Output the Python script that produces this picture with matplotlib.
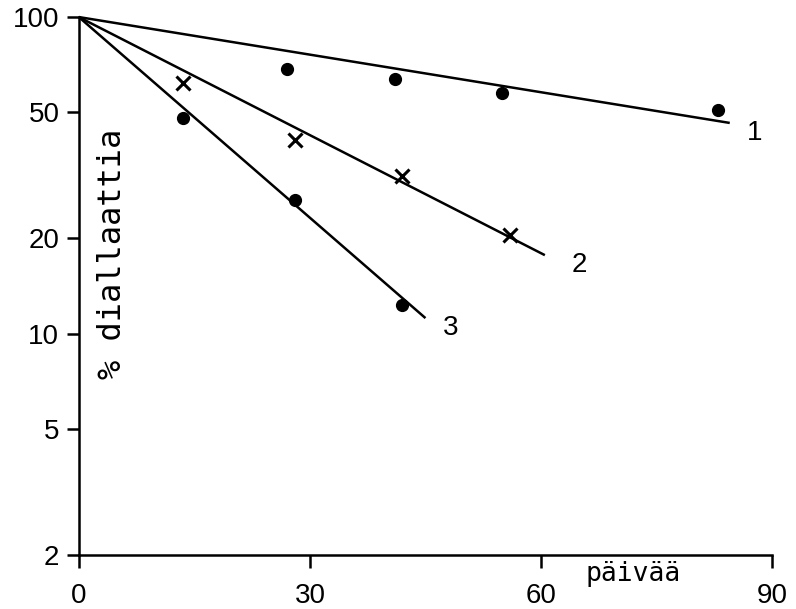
import matplotlib
matplotlib.use("Agg")
import matplotlib.pyplot as plt
from matplotlib.ticker import FixedLocator, NullLocator

# Data (days, % dialate remaining)
s1_days = [27, 41, 55, 83]
s1_vals = [68.5, 63.5, 57.5, 51]
s2_days = [13.5, 28, 42, 56]
s2_vals = [62, 41, 31.5, 20.5]
s3_days = [13.5, 28, 42]
s3_vals = [48, 26.5, 12.3]

# fitted lines: start (0, 100), end points
line_start_day = 0
line_start_val = 100
line_end_days = [84.5, 60.5, 45]
line_end_vals = [46.3, 17.7, 11.2]
line_labels = ["1", "2", "3"]

x_ticks = [0, 30, 60, 90]
y_ticks = [2, 5, 10, 20, 50, 100]
y_ticklabels = ["2", "5", "10", "20", "50", "100"]

plt.rcParams['font.family'] = ['Liberation Sans', 'DejaVu Sans']

fig = plt.figure(figsize=(7.96, 6.09), dpi=100)
ax = fig.add_axes([0.099, 0.0887, 0.871, 0.8833])
ax.set_yscale('log')
ax.set_xlim(0, 90)
ax.set_ylim(2, 100)

label_dx = [2.2, 3.5, 2.2]
for ed, ev, lab, dx in zip(line_end_days, line_end_vals, line_labels, label_dx):
    ax.plot([line_start_day, ed], [line_start_val, ev], color='black', lw=1.8,
            solid_capstyle='butt', clip_on=False)
    ax.text(ed + dx, ev * 0.93, lab, fontsize=20, ha='left', va='center')

ax.plot(s1_days, s1_vals, 'o', color='black', ms=8.5, clip_on=False)
ax.plot(s2_days, s2_vals, 'x', color='black', ms=10, mew=2.2, clip_on=False)
ax.plot(s3_days, s3_vals, 'o', color='black', ms=8.5, clip_on=False)

for s in ['top', 'right']:
    ax.spines[s].set_visible(False)
for s in ['left', 'bottom']:
    ax.spines[s].set_linewidth(1.8)

ax.yaxis.set_major_locator(FixedLocator(y_ticks))
ax.set_yticklabels(y_ticklabels)
ax.yaxis.set_minor_locator(NullLocator())
ax.set_xticks(x_ticks)
ax.tick_params(axis='y', direction='out', length=9, width=1.8, pad=5, labelsize=20)
ax.tick_params(axis='x', direction='out', length=9, width=1.8, pad=11, labelsize=20)

ax.text(0.048, 0.56, "% diallaattia", transform=ax.transAxes, rotation=90,
        ha='center', va='center', fontsize=23, family='DejaVu Sans Mono')
ax.text(0.80, -0.036, "päivää", transform=ax.transAxes, ha='center', va='center',
        fontsize=19, family='DejaVu Sans Mono')

fig.savefig("out.png", dpi=100)
